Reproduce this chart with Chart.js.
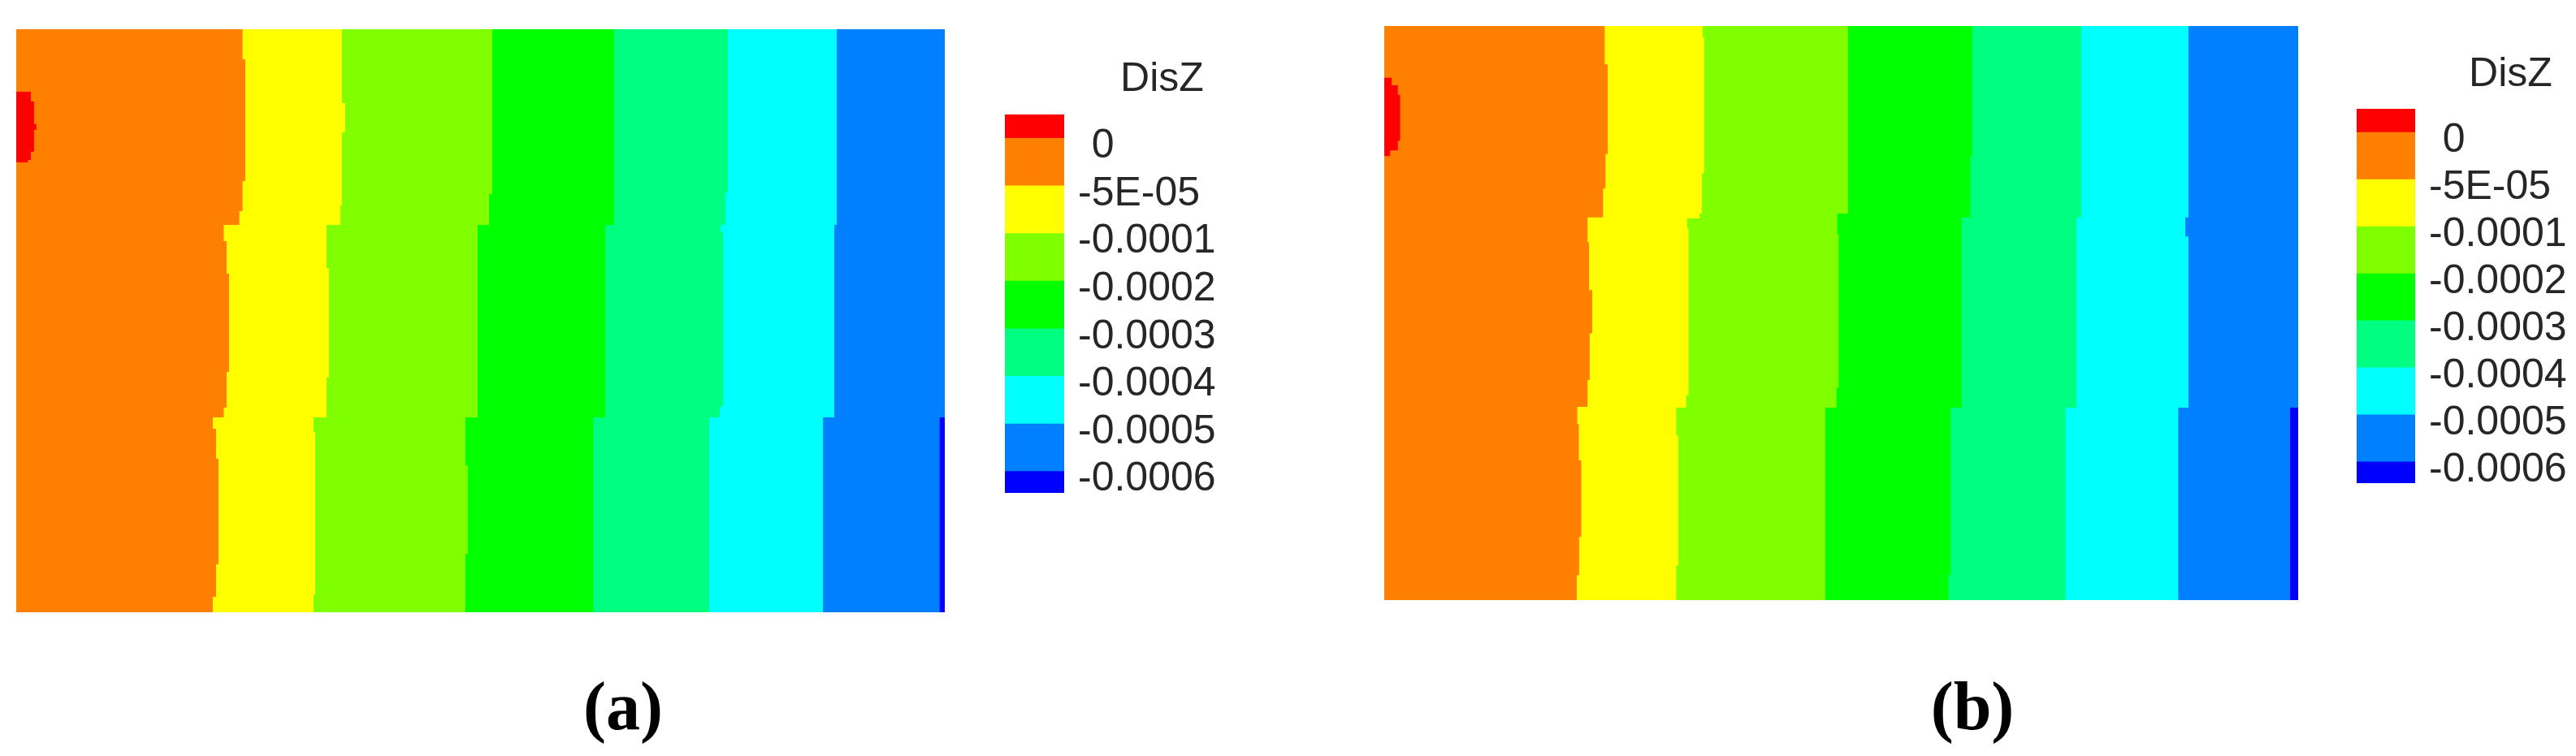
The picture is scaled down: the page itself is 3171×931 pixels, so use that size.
<!DOCTYPE html>
<html>
<head>
<meta charset="utf-8">
<title>DisZ contours</title>
<script src="https://cdn.jsdelivr.net/npm/chart.js@4.4.1/dist/chart.umd.min.js"></script>
<style>
  html, body { margin: 0; padding: 0; background: #fff; }
  body { width: 3171px; height: 931px; position: relative; overflow: hidden; }
  .box { position: absolute; }
  .caption {
    position: absolute; width: 200px; text-align: center;
    font-family: "Liberation Serif", "Times New Roman", serif;
    font-weight: bold; font-size: 84px; line-height: 84px; color: #000;
  }
</style>
</head>
<body>
<div class="box" style="left:20px;top:36px;width:1143px;height:718px"><canvas id="contourA"></canvas></div>
<div class="box" style="left:1237px;top:60px;width:387px;height:547px"><canvas id="barA"></canvas></div>
<div class="box" style="left:1704px;top:32px;width:1125px;height:707px"><canvas id="contourB"></canvas></div>
<div class="box" style="left:2901px;top:54px;width:379px;height:541px"><canvas id="barB"></canvas></div>
<div class="caption" style="left:667px;top:828px">(a)</div>
<div class="caption" style="left:2328px;top:828px">(b)</div>
<script>
// contour levels, top of the colour bar first
const bandColors = ["#ff0000", "#ff8000", "#ffff00", "#80ff00", "#00ff00", "#00ff80", "#00ffff", "#0080ff", "#0000ff"];
const levelLabels = ["0", "-5E-05", "-0.0001", "-0.0002", "-0.0003", "-0.0004", "-0.0005", "-0.0006"];
const swatchUnits = [0.5, 1, 1, 1, 1, 1, 1, 1, 0.45];

// band edges: [y % from top, x % from left], edge holds from that y down to the next entry
const aEdgeOrangeYellow = [[0, 24.37], [5.15, 24.67], [26.04, 24.37], [31.2, 24.03], [33.57, 22.35], [36.35, 22.66], [41.92, 22.92], [58.77, 22.66], [64.9, 22.35], [66.57, 21.17], [68.52, 21.52], [73.68, 21.78], [91.78, 21.52], [97.35, 21.17]];
const aEdgeYellowLime = [[0, 35.08], [12.67, 35.43], [17.69, 35.08], [30.22, 34.91], [33.57, 33.42], [40.95, 33.68], [59.75, 33.42], [66.57, 32.02], [69.08, 32.2], [96.94, 32.02]];
const aEdgeLimeGreen = [[0, 51.27], [28.27, 50.92], [33.57, 49.69], [66.57, 48.38], [74.79, 48.64], [89.97, 48.38]];
const aEdgeGreenSpring = [[0, 64.39], [33.57, 63.43], [66.57, 62.12]];
const aEdgeSpringCyan = [[0, 76.64], [28.0, 76.38], [33.57, 75.85], [34.82, 76.12], [64.76, 75.77], [66.57, 74.63]];
const aEdgeCyanAzure = [[0, 88.36], [33.57, 88.1], [66.57, 86.88]];
const aEdgeAzureBlue = [[0, 100], [66.57, 99.45]];
const aRedBulge = [[0, 0], [10.72, 1.57], [12.4, 1.92], [16.3, 2.17], [17.27, 1.92], [21.03, 1.57], [22.42, 1.26], [22.84, 0]];

const bEdgeOrangeYellow = [[0, 24.12], [6.67, 24.45], [22.33, 24.21], [28.33, 23.94], [33.33, 22.24], [37.67, 22.41], [46, 22.76], [53.53, 22.48], [61.67, 22.24], [66.33, 21.12], [69.33, 21.29], [75.67, 21.56], [89, 21.32], [95.67, 21.06]];
const bEdgeYellowLime = [[0, 34.83], [2, 35.0], [25.67, 34.76], [32.67, 34.49], [33.53, 33.13], [35.33, 33.3], [64.33, 33.03], [66.47, 31.94], [71.33, 32.18], [94, 31.94]];
const bEdgeLimeGreen = [[0, 50.75], [32.67, 49.56], [36.33, 49.72], [63, 49.48], [66.47, 48.27]];
const bEdgeGreenSpring = [[0, 64.36], [22.67, 64.12], [33.33, 63.17], [66.47, 61.97], [95.67, 61.73]];
const bEdgeSpringCyan = [[0, 76.26], [33.33, 75.75], [66.47, 74.56]];
const bEdgeCyanAzure = [[0, 87.99], [33.33, 87.65], [36.67, 87.99], [66.47, 86.87]];
const bEdgeAzureBlue = [[0, 100], [66.47, 99.12]];
const bRedBulge = [[0, 0], [9, 0.81], [10.33, 1.49], [12, 1.73], [20, 1.49], [21.67, 0.64], [22.67, 0]];

const fontSans = '"Liberation Sans", Arial, sans-serif';
const textColor = "#262626";

function staircase(steps) {
  const pts = [];
  steps.forEach(([y, x], i) => {
    const yEnd = i + 1 < steps.length ? steps[i + 1][0] : 100;
    pts.push({ x, y }, { x, y: yEnd });
  });
  return pts;
}

const rightOf = (steps) => [...staircase(steps), { x: 100, y: 100 }, { x: 100, y: 0 }];
const leftOf = (steps) => [...staircase(steps), { x: 0, y: 100 }, { x: 0, y: 0 }];

function contour(id, edges, bulge, blue) {
  // painted bottom-up: orange base, then each band to the right of its edge, red on top
  const regions = [
    { color: bandColors[1], pts: rightOf([[0, 0]]) },
    ...edges.map((e, i) => ({ color: bandColors[i + 2], pts: rightOf(e) })),
    { color: bandColors[8], pts: rightOf(blue) },
    { color: bandColors[0], pts: leftOf(bulge) },
  ];
  new Chart(document.getElementById(id), {
    type: "line",
    data: {
      datasets: regions.map((r, i) => ({
        data: r.pts,
        backgroundColor: r.color,
        borderWidth: 0,
        fill: "shape",
        order: regions.length - i,
      })),
    },
    options: {
      responsive: true,
      maintainAspectRatio: false,
      animation: false,
      events: [],
      layout: { padding: 0 },
      elements: { point: { radius: 0 }, line: { tension: 0, borderDash: [10, 0] } },
      plugins: { legend: { display: false }, tooltip: { enabled: false } },
      scales: {
        x: { type: "linear", min: 0, max: 100, display: false },
        y: { type: "linear", min: 0, max: 100, reverse: true, display: false },
      },
    },
  });
}

function colorBar(id, width, barWidth, pad) {
  const total = swatchUnits.reduce((a, b) => a + b, 0);
  const tickVals = [];
  let acc = 0;
  for (let i = swatchUnits.length - 1; i > 0; i--) {
    acc += swatchUnits[i];
    tickVals.push(acc);
  }
  new Chart(document.getElementById(id), {
    type: "bar",
    data: {
      labels: ["DisZ"],
      datasets: bandColors
        .map((c, i) => ({ data: [swatchUnits[i]], backgroundColor: c, borderWidth: 0 }))
        .reverse(),
    },
    options: {
      responsive: true,
      maintainAspectRatio: false,
      animation: false,
      events: [],
      layout: { padding: 0 },
      datasets: { bar: { barPercentage: 1, categoryPercentage: 1 } },
      plugins: {
        legend: { display: false },
        tooltip: { enabled: false },
        title: {
          display: true,
          text: "DisZ",
          color: textColor,
          font: { family: fontSans, size: 50, weight: "normal", lineHeight: 1 },
          padding: { top: pad[0], bottom: pad[1] },
        },
      },
      scales: {
        x: { stacked: true, display: false },
        y: {
          stacked: true,
          position: "right",
          min: 0,
          max: total,
          grid: { display: false, drawTicks: false },
          border: { display: false },
          afterBuildTicks: (s) => {
            s.ticks = tickVals.map((v) => ({ value: v }));
          },
          afterFit: (s) => {
            s.width = width - barWidth;
            s.paddingTop = 0;
            s.paddingBottom = 0;
          },
          ticks: {
            autoSkip: false,
            padding: 17,
            labelOffset: 10,
            color: textColor,
            font: { family: fontSans, size: 50, lineHeight: 1 },
            callback: (v, i) => {
              const t = levelLabels[levelLabels.length - 1 - i];
              return t === "0" ? "\u2004" + t : t;
            },
          },
        },
      },
    },
  });
}

contour("contourA",
  [aEdgeOrangeYellow, aEdgeYellowLime, aEdgeLimeGreen, aEdgeGreenSpring, aEdgeSpringCyan, aEdgeCyanAzure],
  aRedBulge, aEdgeAzureBlue);
contour("contourB",
  [bEdgeOrangeYellow, bEdgeYellowLime, bEdgeLimeGreen, bEdgeGreenSpring, bEdgeSpringCyan, bEdgeCyanAzure],
  bRedBulge, bEdgeAzureBlue);
colorBar("barA", 387, 73, [13, 18]);
colorBar("barB", 379, 72, [13, 17]);
</script>
</body>
</html>
